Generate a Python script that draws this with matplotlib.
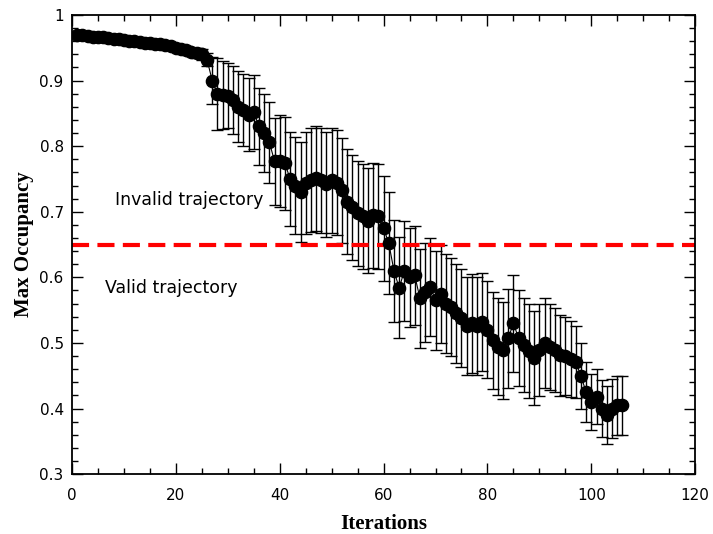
import numpy as np
import matplotlib
matplotlib.use("Agg")
from matplotlib import pyplot as plt
from matplotlib.ticker import MultipleLocator

iterations = list(range(1, 107))

max_occ = [0.970, 0.969, 0.968, 0.967, 0.967, 0.966, 0.965, 0.964, 0.963, 0.962,
           0.961, 0.960, 0.959, 0.958, 0.957, 0.956, 0.955, 0.954, 0.952, 0.950,
           0.948, 0.946, 0.944, 0.942, 0.940, 0.932, 0.900, 0.880, 0.878, 0.877,
           0.870, 0.860, 0.855, 0.848, 0.852, 0.830, 0.820, 0.806, 0.777, 0.777,
           0.774, 0.750, 0.740, 0.730, 0.744, 0.748, 0.751, 0.748, 0.742, 0.748,
           0.744, 0.733, 0.715, 0.707, 0.698, 0.693, 0.686, 0.695, 0.693, 0.675,
           0.652, 0.610, 0.584, 0.610, 0.600, 0.603, 0.568, 0.577, 0.585, 0.565,
           0.575, 0.560, 0.555, 0.545, 0.538, 0.526, 0.530, 0.526, 0.532, 0.520,
           0.504, 0.494, 0.489, 0.507, 0.530, 0.507, 0.497, 0.488, 0.477, 0.489,
           0.500, 0.494, 0.489, 0.481, 0.480, 0.475, 0.471, 0.450, 0.425, 0.410,
           0.418, 0.400, 0.390, 0.400, 0.405, 0.405]

errors = [0.002] * 19 + [0.004, 0.005, 0.006, 0.006, 0.007, 0.008, 0.010,
          0.036, 0.055, 0.052, 0.050, 0.052, 0.054, 0.055, 0.056, 0.056, 0.058,
          0.060, 0.062, 0.066, 0.070, 0.071, 0.072, 0.074, 0.076, 0.078, 0.079,
          0.080, 0.080, 0.080, 0.080, 0.080, 0.080, 0.080, 0.080, 0.080, 0.080,
          0.080, 0.080, 0.080, 0.080, 0.078, 0.078, 0.077, 0.076, 0.076,
          0.076, 0.076, 0.075, 0.075, 0.075, 0.075, 0.075, 0.075, 0.075, 0.075,
          0.075, 0.075, 0.075, 0.074, 0.074, 0.074, 0.074, 0.074, 0.075, 0.074,
          0.073, 0.072, 0.072, 0.071, 0.070, 0.068, 0.066, 0.064, 0.062, 0.060,
          0.058, 0.055, 0.050, 0.046, 0.042, 0.042, 0.043, 0.044, 0.045, 0.045,
          0.045]

threshold = 0.65

fig = plt.figure(figsize=(7.13, 5.34), dpi=100)
ax = fig.add_axes([0.101, 0.112, 0.874, 0.860])

ax.errorbar(iterations, max_occ, yerr=errors, fmt="o-", color="black",
            ms=8.8, lw=0.8, elinewidth=1.0, capsize=4, capthick=1.0)
ax.axhline(threshold, color="red", ls=(0, (4.1, 2.0)), lw=3)

ax.text(8.3, 0.718, "Invalid trajectory", fontsize=12.5, va="center",
        family="DejaVu Sans")
ax.text(6.4, 0.584, "Valid trajectory", fontsize=12.5, va="center",
        family="DejaVu Sans")

ax.set_xlim(0, 120)
ax.set_ylim(0.3, 1.0)
ax.xaxis.set_major_locator(MultipleLocator(20))
ax.xaxis.set_minor_locator(MultipleLocator(5))
ax.yaxis.set_major_locator(MultipleLocator(0.1))
ax.yaxis.set_minor_locator(MultipleLocator(0.02))
ax.tick_params(which="both", direction="in", top=True, right=True,
               labelsize=11, width=1)
ax.tick_params(which="major", length=8)
ax.tick_params(which="minor", length=4)
ax.tick_params(axis="x", which="major", pad=10)
ax.tick_params(axis="y", which="major", pad=6)
ax.set_yticks([0.3, 0.4, 0.5, 0.6, 0.7, 0.8, 0.9, 1.0])
ax.set_yticklabels(["0.3", "0.4", "0.5", "0.6", "0.7", "0.8", "0.9", "1"])
for s in ax.spines.values():
    s.set_linewidth(1.3)

ax.set_xlabel("Iterations", family="Liberation Serif", fontweight="bold",
              fontsize=15, labelpad=8)
ax.set_ylabel("Max Occupancy", family="Liberation Serif", fontweight="bold",
              fontsize=15, labelpad=4)

fig.savefig("out.png", dpi=100)
